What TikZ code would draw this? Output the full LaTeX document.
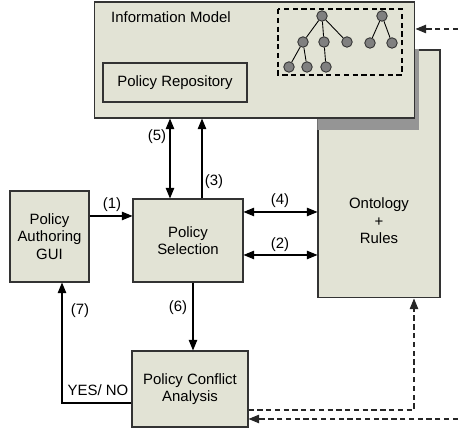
\documentclass[tikz,border=0pt]{standalone}
\usepackage{fontspec}
\setmainfont{Liberation Sans}
\usetikzlibrary{arrows.meta, calc}
\definecolor{boxFill}{HTML}{E2E3D5}
\definecolor{shadowGray}{HTML}{959595}
\definecolor{leafGray}{HTML}{808080}

\begin{document}
\begin{tikzpicture}[x=0.02cm, y=-0.02cm,
    every node/.style={font=\fontsize{8.5}{10}\selectfont},
    block/.style={draw=black!80, fill=boxFill, line width=0.6pt, align=center, inner sep=1pt},
    leaf/.style={circle, draw=black!80, fill=leafGray, minimum size=0.21cm, inner sep=0pt, line width=0.5pt},
    flow/.style={line width=0.6pt, -{Triangle[length=6pt, width=4.8pt]}},
    both/.style={line width=0.6pt, {Triangle[length=6pt, width=4.8pt]}-{Triangle[length=6pt, width=4.8pt]}},
    ext/.style={flow, dash pattern=on 3pt off 2pt, black!85}]
  \useasboundingbox (0,0) rectangle (458,431);

  % ontology box sits behind the information model
  \node[block, minimum width=2.44cm, minimum height=4.96cm] (onto) at (379,174) {};
  \node[align=center] (ontotext) at (379,221) {Ontology\\+\\Rules};

  % shadow of the information model, only seen on the ontology box
  \begin{scope}
    \clip (onto.south west) rectangle (onto.north east);
    \fill[shadowGray] ($(254.5,60)+(4,12)+(-160.5,-58)$) rectangle ($(254.5,60)+(4,12)+(160.5,58)$);
  \end{scope}

  \node[block, minimum width=6.42cm, minimum height=2.32cm] (im) at (254.5,60) {};
  \node[anchor=west] (imtitle) at (105,17) {Information Model};
  \node[block, minimum width=2.88cm, minimum height=0.78cm] (repo) at (175,82.5) {Policy Repository};

  % class hierarchy sketch
  \draw[dash pattern=on 3pt off 2pt, line width=0.6pt] (278,9) rectangle (402,75);
  \foreach \n/\x/\y in {r1/322/16, a/303/42, b/324/42, c/347/42, d/289/67, e/307/67, f/326/67,
                        r2/382/16, g/370/43, h/392/43}
    \node[leaf] (\n) at (\x,\y) {};
  \foreach \p/\c in {r1/a, r1/b, r1/c, a/d, a/e, b/f, r2/g, r2/h}
    \draw[line width=0.5pt] (\p) -- (\c);

  \node[block, minimum width=1.58cm, minimum height=1.82cm] (gui) at (49.5,236.5) {Policy\\Authoring\\GUI};
  \node[block, minimum width=2.2cm, minimum height=1.66cm] (psel) at (188,240.5) {Policy\\Selection};
  \node[block, minimum width=2.32cm, minimum height=1.52cm] (pca) at (190,389) {Policy Conflict\\Analysis};

  % numbered interactions
  \draw[flow] (gui.east |- 0,216) -- (psel.west |- 0,216);
  \node (l1) at (112,205) {(1)};
  \draw[both] (psel.east |- 0,212) -- (onto.west |- 0,212);
  \node (l4) at (280,201) {(4)};
  \draw[both] (psel.east |- 0,255) -- (onto.west |- 0,255);
  \node (l2) at (280,245) {(2)};
  \draw[both] (im.south -| 170,0) -- (psel.north -| 170,0);
  \node (l5) at (157,137) {(5)};
  \draw[flow] (psel.north -| 202,0) -- (im.south -| 202,0);
  \node (l3) at (214,182) {(3)};
  \draw[flow] (psel.south -| 193,0) -- (pca.north -| 193,0);
  \node (l6) at (178,308) {(6)};
  \draw[flow] (pca.west |- 0,403) -| (gui.south -| 62,0);
  \node (l7) at (80,311) {(7)};
  \node (yesno) at (98,390) {YES/ NO};

  % external feeds
  \coordinate (inTop) at (458,29);
  \coordinate (inBot) at (458,419);
  \draw[ext] (inTop) -- (im.east |- inTop);
  \draw[ext] (pca.east |- 0,410) -| (onto.south -| 414,0);
  \draw[ext] (inBot) -- (pca.east |- inBot);
\end{tikzpicture}
\end{document}
